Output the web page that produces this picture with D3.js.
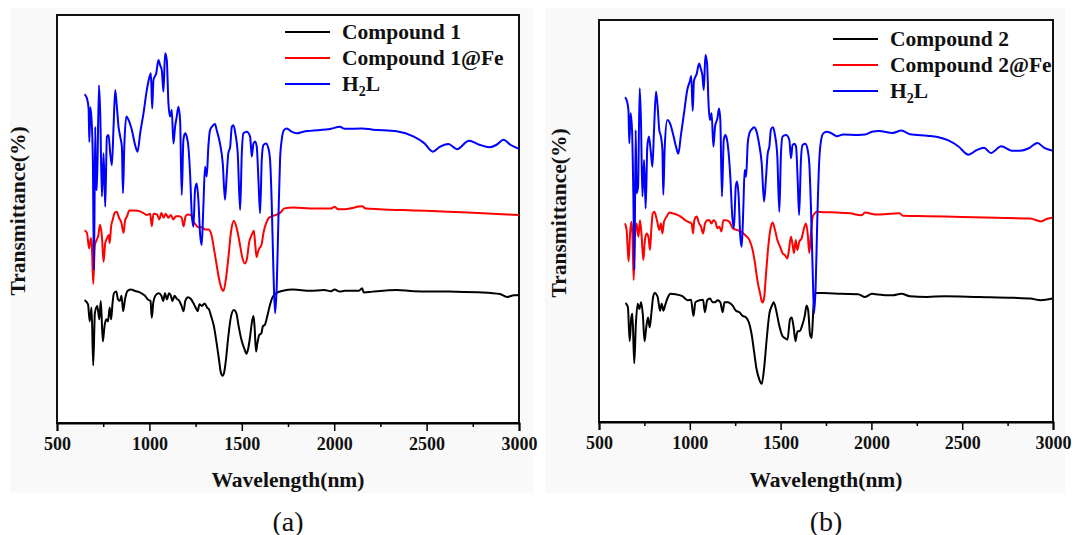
<!DOCTYPE html>
<html>
<head>
<meta charset="utf-8">
<script src="https://cdn.jsdelivr.net/npm/d3@7"></script>
<style>
  body { margin: 0; background: #fff; }
  svg text { font-family: "Liberation Serif", "Times New Roman", serif; }
</style>
</head>
<body>
<div id="chart"></div>
<script>
// wavelength (nm), transmittance (a.u., stacked)
const compound1 = [[649,30.1],[668,29.1],[677,24.9],[687,28.3],[696,14.1],[705,27.0],[718,28.7],[729,25.4],[737,29.9],[748,20.0],[757,23.7],[767,25.4],[776,24.9],[785,28.3],[793,25.4],[800,29.1],[808,31.8],[821,32.2],[830,30.3],[840,29.9],[849,31.2],[858,27.4],[868,30.3],[882,32.4],[901,32.7],[920,32.4],[938,32.2],[957,31.8],[976,31.2],[991,30.3],[1006,29.9],[1013,25.8],[1021,29.5],[1032,31.2],[1050,31.8],[1065,31.2],[1075,29.9],[1084,31.8],[1095,30.3],[1106,31.8],[1116,31.2],[1125,29.9],[1136,31.2],[1147,30.5],[1162,29.9],[1174,28.7],[1185,27.4],[1194,29.9],[1209,30.8],[1222,30.5],[1237,29.5],[1250,28.3],[1261,27.4],[1271,29.1],[1284,28.7],[1299,29.3],[1312,28.3],[1323,27.8],[1334,26.2],[1349,23.7],[1364,19.5],[1377,15.4],[1386,12.5],[1396,11.6],[1405,12.5],[1414,15.4],[1427,21.2],[1442,26.2],[1457,27.7],[1470,27.0],[1483,23.7],[1498,20.4],[1513,18.3],[1526,17.0],[1535,18.3],[1545,21.2],[1554,24.5],[1563,26.2],[1569,23.7],[1577,17.5],[1584,19.5],[1595,21.6],[1606,22.0],[1614,23.7],[1625,24.1],[1638,26.2],[1651,28.7],[1666,30.8],[1677,31.5],[1685,31.8],[1722,32.4],[1778,32.7],[1871,32.4],[1946,32.6],[1983,32.3],[2002,32.7],[2030,32.2],[2058,32.4],[2132,32.4],[2151,33.0],[2160,32.0],[2207,32.2],[2338,32.6],[2431,32.3],[2618,32.2],[2804,32.0],[2897,31.6],[2935,30.9],[2972,31.3],[3000,31.4]];

const compound1Fe = [[649,47.2],[662,46.6],[674,42.8],[683,45.3],[688,44.1],[696,34.1],[705,43.6],[715,44.9],[724,46.1],[733,48.6],[743,45.7],[752,39.5],[761,44.1],[771,45.3],[780,46.1],[785,44.1],[793,48.2],[802,49.9],[812,51.5],[823,51.8],[836,50.3],[849,49.0],[860,46.6],[868,49.5],[879,50.7],[892,52.1],[910,52.1],[938,52.0],[966,51.5],[985,51.0],[1004,51.3],[1013,48.2],[1022,51.3],[1041,51.1],[1054,49.9],[1065,51.5],[1077,50.3],[1088,51.3],[1103,50.3],[1116,51.0],[1129,49.9],[1144,50.7],[1162,50.7],[1175,50.3],[1185,48.2],[1196,50.7],[1209,51.1],[1224,51.0],[1237,49.5],[1252,48.5],[1265,48.0],[1284,48.0],[1302,47.4],[1321,47.4],[1336,46.1],[1349,42.8],[1364,38.7],[1377,35.3],[1392,32.8],[1401,32.4],[1414,35.3],[1427,40.3],[1442,47.0],[1457,49.6],[1472,47.8],[1487,44.5],[1502,40.7],[1517,39.1],[1528,40.3],[1539,44.1],[1554,46.1],[1565,47.1],[1573,43.6],[1580,40.7],[1588,42.0],[1595,42.8],[1606,43.6],[1619,47.0],[1632,49.0],[1647,50.3],[1666,50.7],[1685,51.0],[1707,51.5],[1731,52.6],[1778,52.8],[1871,52.6],[1983,52.6],[2002,53.0],[2021,52.4],[2058,52.4],[2151,53.1],[2170,52.6],[2244,52.4],[2431,52.1],[2618,51.8],[2804,51.4],[3000,51.0]];

const h2lA = [[649,80.6],[662,79.6],[671,77.1],[675,68.9],[680,77.4],[687,74.3],[694,64.5],[700,37.5],[707,72.6],[711,57.9],[716,57.1],[727,82.8],[734,75.9],[743,55.5],[752,66.1],[761,53.0],[770,70.2],[779,70.6],[788,66.1],[797,63.2],[806,72.6],[815,81.6],[824,77.5],[833,72.6],[842,70.2],[851,67.7],[857,56.3],[864,67.7],[875,75.1],[887,74.3],[905,71.8],[923,68.1],[936,66.5],[950,71.0],[968,75.9],[986,81.6],[1001,84.9],[1008,85.7],[1015,77.1],[1022,84.1],[1037,85.7],[1049,89.0],[1058,87.7],[1067,86.5],[1076,81.2],[1085,90.6],[1094,89.0],[1103,78.4],[1112,75.1],[1121,76.7],[1130,68.5],[1139,72.6],[1148,75.1],[1157,77.5],[1166,74.3],[1175,55.9],[1184,69.4],[1193,71.0],[1202,70.2],[1211,67.7],[1220,61.2],[1229,51.4],[1238,48.1],[1247,57.1],[1256,58.7],[1265,54.7],[1274,46.5],[1283,43.6],[1292,53.0],[1301,62.8],[1310,60.4],[1319,67.7],[1328,71.8],[1346,73.0],[1355,73.3],[1364,71.8],[1382,68.5],[1397,63.6],[1409,54.7],[1418,60.4],[1427,66.1],[1437,67.7],[1446,72.6],[1455,73.0],[1465,71.0],[1478,66.1],[1491,52.2],[1500,66.1],[1509,71.0],[1527,71.4],[1545,70.2],[1554,65.3],[1563,68.5],[1572,69.0],[1581,67.7],[1590,59.6],[1599,51.4],[1608,64.5],[1617,68.1],[1631,68.5],[1644,67.3],[1653,64.5],[1662,53.8],[1671,37.5],[1680,26.9],[1689,33.4],[1698,49.8],[1707,64.5],[1716,69.4],[1728,71.8],[1743,72.2],[1770,71.4],[1797,71.0],[1833,71.4],[1869,71.6],[1983,72.1],[2030,72.6],[2058,72.1],[2151,72.2],[2207,71.9],[2338,71.5],[2431,70.2],[2487,68.6],[2534,66.5],[2571,67.7],[2618,68.4],[2664,67.1],[2729,69.2],[2786,68.2],[2841,67.6],[2879,68.2],[2916,69.4],[2953,68.2],[3000,67.2]];

const compound2 = [[646,29.6],[659,28.6],[669,20.1],[678,26.0],[684,26.9],[694,14.6],[703,24.3],[713,29.4],[722,28.1],[732,29.8],[741,26.9],[751,20.1],[760,23.5],[770,26.0],[779,23.5],[789,27.3],[798,31.1],[807,32.1],[823,31.1],[836,27.7],[845,29.4],[855,27.7],[864,29.0],[880,31.1],[893,31.9],[921,31.8],[959,31.3],[988,30.3],[1007,30.4],[1020,26.4],[1031,29.8],[1054,30.3],[1073,30.4],[1083,27.3],[1096,30.3],[1111,30.7],[1126,29.8],[1140,29.8],[1153,30.3],[1168,29.8],[1181,27.3],[1191,29.8],[1210,29.8],[1235,29.0],[1254,27.7],[1273,27.3],[1291,26.4],[1310,26.0],[1326,24.7],[1339,22.2],[1354,17.5],[1367,13.3],[1381,10.8],[1396,9.5],[1409,13.3],[1424,20.9],[1438,26.9],[1453,29.0],[1462,29.8],[1476,27.7],[1491,24.3],[1510,21.4],[1523,20.9],[1538,20.5],[1552,25.6],[1561,26.0],[1572,23.5],[1582,20.1],[1593,22.6],[1605,22.6],[1618,23.9],[1633,26.4],[1643,29.0],[1652,27.7],[1662,21.8],[1671,20.9],[1681,28.6],[1692,32.1],[1737,32.1],[1832,31.9],[1927,31.8],[1965,31.1],[2003,31.9],[2022,31.8],[2117,31.5],[2165,31.9],[2212,31.3],[2307,31.1],[2402,31.3],[2592,31.1],[2781,30.9],[2876,30.7],[2933,30.3],[2996,30.7]];

const compound2Fe = [[643,49.4],[652,47.8],[663,39.9],[671,46.9],[678,49.8],[684,46.9],[691,35.3],[698,46.1],[707,49.4],[717,46.1],[726,50.2],[735,46.1],[744,40.3],[753,45.3],[763,46.9],[772,46.1],[781,42.8],[788,47.8],[796,51.9],[805,52.3],[814,51.1],[823,49.4],[832,47.8],[841,49.4],[849,46.9],[858,49.8],[873,51.1],[887,52.1],[906,51.9],[928,51.6],[950,51.1],[974,50.2],[992,49.8],[1010,49.4],[1018,46.9],[1025,50.2],[1038,51.1],[1051,49.4],[1062,48.6],[1073,46.9],[1084,49.4],[1097,50.2],[1108,50.2],[1119,49.4],[1130,50.2],[1141,49.8],[1152,48.2],[1163,48.6],[1174,47.4],[1185,50.2],[1199,50.2],[1218,49.8],[1236,48.2],[1258,47.8],[1280,47.4],[1304,46.5],[1328,45.3],[1346,42.8],[1359,39.5],[1372,35.3],[1387,32.0],[1399,29.7],[1409,30.8],[1420,37.0],[1432,43.6],[1445,48.2],[1456,49.6],[1469,47.8],[1482,45.3],[1497,43.6],[1511,42.0],[1524,41.5],[1537,40.7],[1546,42.8],[1557,46.1],[1565,44.4],[1574,42.0],[1583,45.3],[1592,42.8],[1603,44.9],[1616,45.7],[1629,48.2],[1640,49.4],[1649,46.9],[1658,42.0],[1667,46.9],[1677,51.1],[1688,51.9],[1699,52.3],[1735,52.2],[1809,52.1],[1882,51.9],[1946,51.4],[1965,52.1],[2022,51.6],[2155,51.9],[2174,51.3],[2307,51.2],[2497,51.0],[2687,50.8],[2876,50.6],[2933,49.9],[2971,50.6],[2996,50.8]];

const h2lB = [[643,80.8],[652,80.1],[662,77.6],[667,69.3],[674,76.8],[682,72.6],[689,56.9],[695,37.8],[702,72.6],[707,56.9],[715,58.5],[724,83.0],[731,75.1],[739,56.1],[748,65.2],[757,53.1],[766,68.5],[775,71.0],[785,67.3],[794,63.5],[803,72.6],[814,82.2],[823,78.4],[832,72.6],[841,71.0],[849,67.7],[854,56.5],[862,68.5],[876,75.1],[891,74.3],[909,71.4],[924,68.5],[937,66.7],[950,71.0],[968,76.8],[986,82.6],[1001,84.9],[1008,86.1],[1016,77.4],[1023,84.9],[1038,86.6],[1051,89.2],[1060,88.0],[1069,86.3],[1077,82.6],[1086,91.3],[1095,89.2],[1104,78.4],[1111,75.1],[1120,76.8],[1130,68.5],[1139,73.5],[1152,75.5],[1161,78.0],[1168,75.1],[1177,56.1],[1187,70.2],[1196,71.4],[1205,70.2],[1214,66.8],[1223,61.0],[1234,51.1],[1243,48.2],[1253,58.5],[1260,59.8],[1269,56.1],[1278,46.1],[1286,43.6],[1295,53.6],[1302,62.7],[1310,61.0],[1319,69.3],[1328,71.8],[1341,72.8],[1354,73.3],[1365,72.6],[1381,69.3],[1396,64.3],[1409,54.8],[1420,61.0],[1429,66.8],[1438,68.5],[1447,72.8],[1458,73.3],[1469,71.4],[1482,66.0],[1493,52.3],[1502,66.8],[1511,71.0],[1530,71.4],[1548,70.2],[1557,65.6],[1566,68.9],[1576,69.2],[1585,68.5],[1594,60.2],[1602,51.5],[1612,65.2],[1621,68.9],[1636,69.2],[1649,67.7],[1658,64.3],[1667,53.6],[1677,37.0],[1684,27.0],[1693,33.7],[1702,50.2],[1712,64.3],[1723,70.1],[1735,71.8],[1754,72.2],[1781,71.8],[1809,71.1],[1845,71.5],[1927,71.4],[1965,71.5],[2003,72.2],[2041,72.4],[2117,71.9],[2165,72.5],[2212,71.6],[2307,71.2],[2364,70.9],[2421,70.1],[2478,68.6],[2535,66.5],[2582,67.7],[2620,68.2],[2658,66.9],[2715,68.6],[2772,67.5],[2819,67.5],[2867,68.1],[2914,69.4],[2952,68.2],[2996,67.5]];

const xTicks = [500, 1000, 1500, 2000, 2500, 3000];
const minorTicks = [750, 1250, 1750, 2250, 2750];
const labelsA = ["Compound 1", "Compound 1@Fe", "H2L"];
const labelsB = ["Compound 2", "Compound 2@Fe", "H2L"];
const colors = ["#000000", "#ff0000", "#0000ff"];

const svg = d3.select("#chart").append("svg")
    .attr("width", 1072)
    .attr("height", 535);

svg.append("rect").attr("x", 10).attr("y", 8).attr("width", 523).attr("height", 485).attr("fill", "#f9f9f9");
svg.append("rect").attr("x", 545).attr("y", 8).attr("width", 520).attr("height", 485).attr("fill", "#f9f9f9");

function drawPanel(p) {
    let x = d3.scaleLinear().domain([500, 3000]).range([p.left, p.right]);
    let y = d3.scaleLinear().domain([0, 100]).range([p.bottom, p.top]);

    // frame
    svg.append("rect")
        .attr("x", p.left).attr("y", p.top)
        .attr("width", p.right - p.left).attr("height", p.bottom - p.top)
        .attr("fill", "#fff").attr("stroke", "#111").attr("stroke-width", 2);

    let ax = svg.append("g")
        .attr("transform", "translate(0," + p.bottom + ")")
        .call(d3.axisBottom(x).tickValues(xTicks).tickSize(8).tickPadding(6).tickFormat(d3.format("d")));
    ax.select(".domain").attr("stroke-width", 2);
    ax.selectAll(".tick line").attr("stroke-width", 1.5);
    ax.selectAll("text")
        .attr("font-family", "Liberation Serif")
        .attr("font-size", 18).attr("font-weight", "bold").attr("fill", "#111");

    svg.append("g")
        .attr("transform", "translate(0," + p.bottom + ")")
        .call(d3.axisBottom(x).tickValues(minorTicks).tickSize(4).tickFormat(""))
        .call(g => g.select(".domain").remove())
        .selectAll(".tick line").attr("stroke-width", 1.5);

    let line = d3.line()
        .x(d => x(d[0]))
        .y(d => y(d[1]))
        .curve(d3.curveMonotoneX);

    p.series.forEach((s, i) => {
        svg.append("path")
            .datum(s)
            .attr("fill", "none")
            .attr("stroke", colors[i])
            .attr("stroke-width", 2)
            .attr("stroke-linejoin", "round")
            .attr("d", line);
    });

    // legend
    p.labels.forEach((lab, i) => {
        let ly = p.legendY + i * 26;
        svg.append("line")
            .attr("x1", p.legendX).attr("x2", p.legendX + 45)
            .attr("y1", ly).attr("y2", ly)
            .attr("stroke", colors[i]).attr("stroke-width", 2);
        let t = svg.append("text")
            .attr("x", p.legendX + 57).attr("y", ly + 7)
            .attr("font-size", 21.5).attr("font-weight", "bold").attr("fill", "#111");
        if (lab === "H2L") {
            t.append("tspan").text("H");
            t.append("tspan").text("2").attr("font-size", 14).attr("dy", 5);
            t.append("tspan").text("L").attr("dy", -5);
        } else {
            t.text(lab);
        }
    });

    svg.append("text")
        .attr("transform", "translate(" + p.yTitleX + "," + ((p.top + p.bottom) / 2 - 8) + ") rotate(-90)")
        .attr("text-anchor", "middle").attr("dominant-baseline", "central")
        .attr("font-size", 21.5).attr("font-weight", "bold").attr("fill", "#111")
        .text("Transmittance(%)");

    svg.append("text")
        .attr("x", (p.left + p.right) / 2).attr("y", 480)
        .attr("text-anchor", "middle").attr("dominant-baseline", "central")
        .attr("font-size", 21.5).attr("font-weight", "bold").attr("fill", "#111")
        .text("Wavelength(nm)");

    svg.append("text")
        .attr("x", (p.left + p.right) / 2).attr("y", 521)
        .attr("text-anchor", "middle").attr("dominant-baseline", "central")
        .attr("font-size", 28).attr("fill", "#111")
        .text(p.caption);
}

drawPanel({left: 57, right: 519, top: 15, bottom: 423, series: [compound1, compound1Fe, h2lA],
    labels: labelsA, legendX: 285, legendY: 32, yTitleX: 18, caption: "(a)"});
drawPanel({left: 599, right: 1053, top: 20, bottom: 422, series: [compound2, compound2Fe, h2lB],
    labels: labelsB, legendX: 833, legendY: 39, yTitleX: 559, caption: "(b)"});

</script>
</body>
</html>
